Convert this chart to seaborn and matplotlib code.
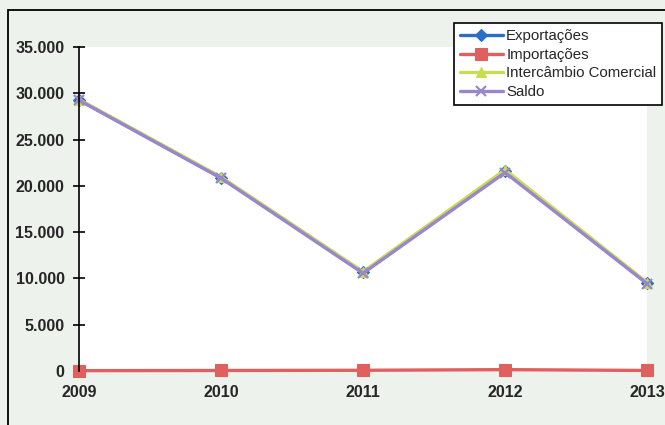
import matplotlib
matplotlib.use("Agg")
import matplotlib.pyplot as plt
import matplotlib.ticker as mticker
from matplotlib.patches import Rectangle
import seaborn as sns
import pandas as pd

# dados (valores aproximados)
anos = [2009, 2010, 2011, 2012, 2013]
exportacoes = [29300, 20900, 10650, 21600, 9500]
importacoes = [40, 60, 80, 150, 60]
intercambio = [29340, 20960, 10730, 21750, 9560]
saldo = [29260, 20840, 10570, 21450, 9440]

series = ["Exportações", "Importações", "Intercâmbio Comercial", "Saldo"]
valores = [exportacoes, importacoes, intercambio, saldo]
cores = ["#2a6fc4", "#e0605e", "#c9dc52", "#9a86cc"]
marcadores = ["D", "s", "^", "x"]

sns.set_style("white")
plt.rcParams['font.family'] = ['Liberation Sans', 'DejaVu Sans']

fig = plt.figure(figsize=(6.65, 4.25), dpi=100)
fig.patch.set_facecolor("#eef2ec")
ax = fig.add_axes([0.119, 0.127, 0.854, 0.762])
ax.set_facecolor("white")

for nome, vals, cor, mk in zip(series, valores, cores, marcadores):
    df = pd.DataFrame({"ano": anos, "valor": vals})
    ms = 9 if mk == "s" else 6.5
    sns.lineplot(data=df, x="ano", y="valor", ax=ax, color=cor, marker=mk,
                 markersize=ms, linewidth=2.4, markeredgecolor=cor,
                 markeredgewidth=1.6 if mk == "x" else 0.8, label=nome, clip_on=False)

ax.set_xlim(2009, 2013)
ax.set_ylim(0, 35000)
ax.set_xticks(anos)
ax.set_yticks(range(0, 35001, 5000))
ax.yaxis.set_major_formatter(mticker.FuncFormatter(lambda v, p: f"{int(v):,}".replace(",", ".")))
ax.set_xlabel("")
ax.set_ylabel("")

for s in ["top", "right", "bottom"]:
    ax.spines[s].set_visible(False)
ax.spines["left"].set_color("black")
ax.spines["left"].set_linewidth(1.2)
ax.tick_params(axis="y", direction="inout", length=9, width=1.2, color="black",
               labelsize=11.5, pad=6, left=True)
ax.tick_params(axis="x", length=0, labelsize=11.5, pad=10, bottom=False)
for lbl in ax.get_xticklabels() + ax.get_yticklabels():
    lbl.set_fontweight("bold")

leg = ax.legend(loc="upper right", bbox_to_anchor=(0.996, 0.945),
                bbox_transform=fig.transFigure, frameon=True, fancybox=False,
                fontsize=10.8, handlelength=2.9, borderpad=0.4, labelspacing=0.3,
                handletextpad=0.2, borderaxespad=0)
leg.get_frame().set_edgecolor("black")
leg.get_frame().set_linewidth(1.2)
leg.get_frame().set_facecolor("white")
leg.get_frame().set_alpha(1)

fig.patches.append(Rectangle((0.012, -0.1), 1.2, 1.076, transform=fig.transFigure,
                             fill=False, edgecolor="black", linewidth=1.3))

fig.savefig("out.png", dpi=100, facecolor=fig.get_facecolor())
